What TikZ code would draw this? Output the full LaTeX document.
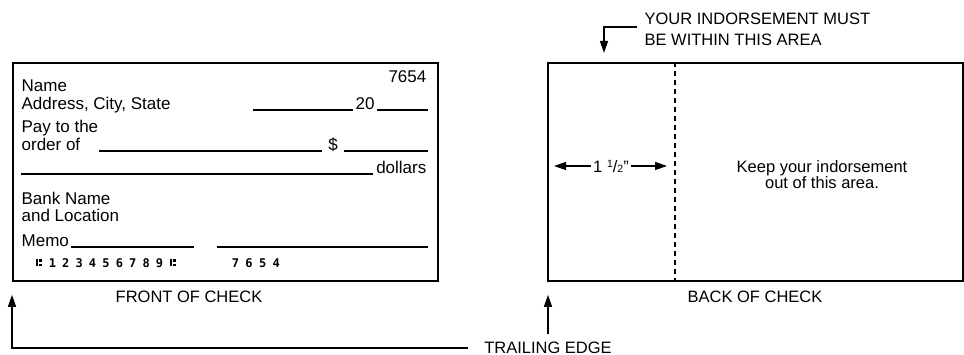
\documentclass[tikz,border=0pt]{standalone}
\usepackage{fontspec}
\setmainfont{Liberation Sans}
\setmonofont{DejaVu Sans Mono}
\usetikzlibrary{arrows.meta}
\tikzstyle{check}   = [draw,line width=1.8pt,inner sep=0pt,minimum width=425pt,minimum height=218pt,anchor=north west]
\tikzstyle{txt}     = [inner sep=0pt,anchor=base west,font=\fontsize{17}{18}\selectfont]
\tikzstyle{caption} = [inner sep=0pt,font=\fontsize{16.5}{21}\selectfont]
\tikzstyle{blank}   = [line width=1.1pt]
\tikzstyle{micr}    = [inner sep=0pt,font=\ttfamily\bfseries\fontsize{12}{12}\selectfont]
\tikzstyle{fold}    = [line width=1.4pt,dash pattern=on 5pt off 4pt]
\newcommand{\transit}{\rule[0.5pt]{1.8pt}{7pt}\hspace{1.4pt}\rlap{\rule[5.2pt]{2.8pt}{2.8pt}}\rule[0.5pt]{2.8pt}{2.8pt}}
\newcommand{\halfinch}{1\ \raisebox{5pt}{\fontsize{10.5}{10}\selectfont 1}/{\fontsize{10.5}{10}\selectfont 2}"}

\begin{document}
\begin{tikzpicture}[x=1pt,y=-1pt,>={Triangle[length=12pt,width=8pt]},line width=1.3pt]
\useasboundingbox (0,0) rectangle (964,355);

% front of the check
\node[check] (front) at (12,62) {};
\node[txt] (name)     at (21,92)  {Name};
\node[txt] (address)  at (21,110) {Address, City, State};
\node[txt,anchor=base east] (number) at (427,83) {7654};
\node[txt,anchor=base] (year) at (365,110) {20};
\node[txt] (pay)      at (21,133) {Pay to the};
\node[txt] (order)    at (21,151) {order of};
\node[txt,anchor=base] (dollar) at (333,151) {\$};
\node[txt,anchor=base east] (dollars) at (427,174) {dollars};
\node[txt] (bankname) at (21,205) {Bank Name};
\node[txt] (location) at (21,222) {and Location};
\node[txt] (memo)     at (21,247) {Memo};

\draw[blank] (253,110) -- (353,110) (377,110) -- (428,110);
\draw[blank] (99,151) -- (322,151) (344,151) -- (428,151);
\draw[blank] (21,174) -- (373,174);
\draw[blank] (71,247) -- (194,247) (217,247) -- (428,247);

% micr line
\node[micr] (transitL) at (39,263)  {\transit};
\foreach \d in {1,...,9}
  \node[micr] (routing\d) at (39+13.4*\d,263) {\d};
\node[micr] (transitR) at (173,263) {\transit};
\foreach \d [count=\i from 0] in {7,6,5,4}
  \node[micr] (serial\i) at (235.5+13.6*\i,263) {\d};

\node[caption] (fronttitle) at (189,297) {FRONT OF CHECK};

% back of the check
\node[check,minimum width=415pt] (back) at (547,62) {};
\coordinate (foldtop) at (675,62);
\coordinate (foldbot) at (675,280);
\draw[fold] (foldtop) -- (foldbot);

\node[caption,anchor=base west] (must)   at (644,25) {YOUR INDORSEMENT MUST};
\node[caption,anchor=base west] (within) at (644,46) {BE WITHIN THIS AREA};
\draw[->] ([shift={(-7,2)}]must.base west) -| ([shift={(57,-9)}]back.north west);

\node[caption,inner sep=1.5pt] (inch) at (611,166) {\halfinch};
\draw[->,shorten >=7pt] (inch.west) -- (inch.west -| back.west);
\draw[->,shorten >=8pt] (inch.east) -- (inch.east -| foldtop);

\node[caption,anchor=base] (keep)  at (822,173) {Keep your indorsement};
\node[caption,anchor=base] (out)   at (822,189) {out of this area.};

\node[caption] (backtitle) at (755,297) {BACK OF CHECK};

% trailing edge
\node[caption] (trail) at (548,348) {TRAILING EDGE};
\coordinate (frontedge) at ([shift={(0,13)}]front.south west);
\coordinate (backedge)  at ([shift={(0,13)}]back.south west);
\draw[->] ([shift={(-16,0)}]trail.west) -| (frontedge);
\draw[->] ([shift={(0,-8)}]trail.north) -- (trail.north |- backedge);

\end{tikzpicture}
\end{document}
